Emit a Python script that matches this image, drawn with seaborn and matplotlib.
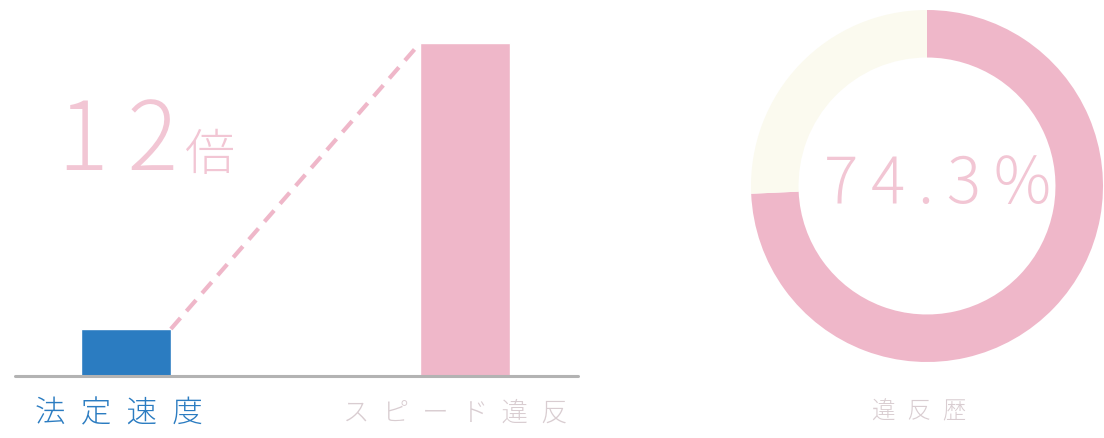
import matplotlib
matplotlib.use("Agg")
import matplotlib.pyplot as plt
import seaborn as sns

# ---- data ----
categories = ["法定速度", "スピード違反"]
bar_values = [47, 333]          # relative heights as drawn
ratio_label = "12"
ratio_unit = "倍"
donut_values = [74.3, 25.7]
donut_label = "74.3%"
donut_title = "違反歴"

BLUE = "#2b7cc1"
PINK = "#efb7c9"
PINK_TEXT = "#f2c6d4"
CREAM = "#fbfaef"
GRAY_TEXT = "#d9cdd1"
BASE = "#b3b3b3"

sns.set_theme(style="white")
plt.rcParams["font.family"] = ["Noto Sans CJK JP", "DejaVu Sans"]

W, H = 1104, 438
fig = plt.figure(figsize=(W / 100, H / 100), dpi=100)
fig.patch.set_facecolor("white")

def fx(px):
    return px / W

def fy(py):
    return 1 - py / H

# ---- bar panel ----
ax = fig.add_axes([fx(15), fy(376), fx(578 - 15), (376 - 20) / H])
sns.barplot(x=categories, y=bar_values, hue=categories,
            palette=[BLUE, PINK], width=0.265, ax=ax, legend=False,
            saturation=1)
ax.set_xlim(-0.327, 1.333)
ax.set_ylim(0, 356)
ax.axis("off")
ax.axhline(0, color=BASE, lw=2.2, clip_on=False, zorder=5)
half = 0.265 / 2
ax.plot([0 + half, 1 - half], [bar_values[0], bar_values[1]],
        color=PINK, lw=3, ls=(0, (3.5, 2.2)), zorder=1)

# category labels
label_colors = [BLUE, GRAY_TEXT]
label_offsets = [-0.02, -0.03]
label_sizes = [22, 19]
for i, (cat, col) in enumerate(zip(categories, label_colors)):
    spaced = "\u2002".join(cat)
    ax.text(i + label_offsets[i], -37, spaced, ha="center", va="center",
            fontsize=label_sizes[i], color=col, fontweight="light")

# 12倍
fig.text(fx(118), fy(170), ratio_label[0] + "\u2009" + ratio_label[1],
         ha="center", va="baseline",
         fontsize=68, color=PINK_TEXT, fontweight="light")
fig.text(fx(185), fy(170), ratio_unit, ha="left", va="baseline",
         fontsize=36, color=PINK_TEXT, fontweight="light")

# ---- donut panel ----
dax = fig.add_axes([fx(751), fy(186 + 176), fx(352), 352 / H])
dax.pie(donut_values, colors=[PINK, CREAM], startangle=90, counterclock=False,
        radius=1, wedgeprops=dict(width=0.27, linewidth=0))
dax.set_xlim(-1, 1)
dax.set_ylim(-1, 1)
dax.set_aspect("equal")
dax.axis("off")
dax.text(0.06, 0.0, "\u2009".join(donut_label), ha="center", va="center",
         fontsize=46, color=PINK_TEXT, fontweight="light")

fig.text(fx(919), fy(412), "\u2002".join(donut_title), ha="center", va="center",
         fontsize=17, color=GRAY_TEXT, fontweight="light")

fig.savefig("out.png", dpi=100, facecolor="white")
